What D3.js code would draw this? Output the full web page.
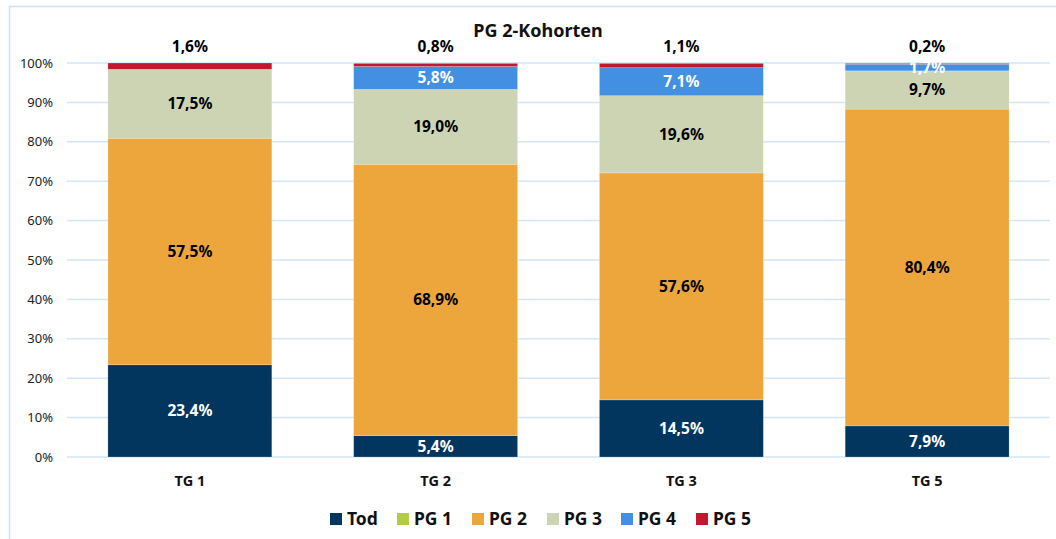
<!DOCTYPE html>
<html>
<meta charset="utf-8">
<head>
<title>PG 2-Kohorten</title>
	<script src="https://d3js.org/d3.v7.min.js"></script>
<style>
	body { margin:0; background:#fff; }
	text { font-family: "Noto Sans", "Open Sans", sans-serif; }
</style>
</head>

<body>
	<div id = "plot"></div>
</body>

<script>

// data
var categories = ["TG 1", "TG 2", "TG 3", "TG 5"];
var seriesNames = ["Tod", "PG 1", "PG 2", "PG 3", "PG 4", "PG 5"];
var tod = [23.4, 5.4, 14.5, 7.9];
var pg1 = [0, 0, 0, 0];
var pg2 = [57.5, 68.9, 57.6, 80.4];
var pg3 = [17.5, 19.0, 19.6, 9.7];
var pg4 = [0, 5.8, 7.1, 1.7];
var pg5 = [1.6, 0.8, 1.1, 0.2];
var yTicks = [0, 10, 20, 30, 40, 50, 60, 70, 80, 90, 100];

var colors = ["#02365f", "#b1cd48", "#eda63c", "#cdd4b4", "#4390e3", "#c0182f"];
var labelColors = ["#fff", "#000", "#000", "#000", "#fff", "#000"];

var values = [tod, pg1, pg2, pg3, pg4, pg5];
var table = categories.map(function(c, i){
	var row = { cat: c };
	seriesNames.forEach(function(s, j){ row[s] = values[j][i]; });
	return row;
});

var width = 1056, height = 539;
var margin = { top: 63, right: 6, bottom: 82, left: 67 };
var innerW = width - margin.left - margin.right;
var innerH = height - margin.top - margin.bottom;

var svg = d3.select("#plot").append("svg")
		.attr("width", width)
		.attr("height", height);

// chart border
svg.append("rect")
.attr("x", 9.5).attr("y", 6.5)
.attr("width", 1080).attr("height", 600)
.attr("fill", "none")
.attr("stroke", "#c8e1f8")
.attr("stroke-width", 1.5);

var xScale = d3.scaleBand()
				.domain(categories)
				.range([0, innerW])
				.paddingInner(0.333)
				.paddingOuter(0.1665);

var yScale = d3.scaleLinear()
				.domain([0, 100])
				.range([innerH, 0]);

var g = svg.append("g")
.attr("transform", "translate(" + margin.left + "," + margin.top + ")");

// gridlines
g.append("g")
.selectAll("line")
.data(yTicks)
.enter()
.append("line")
.attr("x1", 0)
.attr("x2", innerW)
.attr("y1", function(d){ return yScale(d); })
.attr("y2", function(d){ return yScale(d); })
.attr("stroke", "#d3e6f8")
.attr("stroke-width", 1.5);

// y axis labels
var yAxis = d3.axisLeft(yScale).tickValues(yTicks)
				.tickFormat(function(d){ return d + "%"; })
				.tickSize(0).tickPadding(14);
g.append("g")
.call(yAxis)
.call(function(a){ a.select(".domain").remove(); })
.selectAll("text")
.attr("font-size", 13)
.attr("fill", "#222")
.style("font-family", "'Noto Sans', sans-serif");

// x axis labels
var xAxis = d3.axisBottom(xScale).tickSize(0).tickPadding(19);
g.append("g")
.attr("transform", "translate(0," + innerH + ")")
.call(xAxis)
.call(function(a){ a.select(".domain").remove(); })
.selectAll("text")
.attr("font-size", 14.5)
.attr("font-weight", "bold")
.attr("fill", "#111")
.style("font-family", "'Noto Sans', sans-serif");

var stacked = d3.stack().keys(seriesNames)(table);

var layers = g.selectAll(".layer")
.data(stacked)
.enter()
.append("g")
.attr("class", "layer")
.attr("fill", function(d, i){ return colors[i]; });

layers.selectAll("rect")
.data(function(d){ return d; })
.enter()
.append("rect")
.attr("x", function(d){ return xScale(d.data.cat); })
.attr("width", xScale.bandwidth())
.attr("y", function(d){ return yScale(d[1]); })
.attr("height", function(d){ return yScale(d[0]) - yScale(d[1]); })
.attr("stroke", "rgba(255,255,255,0.35)")
.attr("stroke-width", 0.6);

// data labels
stacked.forEach(function(layer, i){
	g.append("g")
	.selectAll("text")
	.data(layer.filter(function(d){ return d[1] - d[0] > 0; }))
	.enter()
	.append("text")
	.attr("x", function(d){ return xScale(d.data.cat) + xScale.bandwidth() / 2; })
	.attr("y", function(d){
		if (i === 5) return yScale(100) - 16;
		return yScale((d[0] + d[1]) / 2);
	})
	.attr("dy", "0.35em")
	.attr("text-anchor", "middle")
	.attr("font-size", 15.5)
	.attr("font-weight", "bold")
	.attr("fill", labelColors[i])
	.text(function(d){ return (d[1] - d[0]).toFixed(1).replace(".", ",") + "%"; });
});

// title
svg.append("text")
.attr("x", 538)
.attr("y", 31)
.attr("dy", "0.35em")
.attr("text-anchor", "middle")
.attr("font-size", 18)
.attr("font-weight", "bold")
.attr("fill", "#111")
.text("PG 2-Kohorten");

// legend
var legendX = [330, 397, 472, 547, 621, 696];
var legend = svg.append("g")
.selectAll("g")
.data(seriesNames)
.enter()
.append("g")
.attr("transform", function(d, i){ return "translate(" + legendX[i] + ",519)"; });

legend.append("rect")
.attr("x", 0).attr("y", -6)
.attr("width", 12).attr("height", 12)
.attr("fill", function(d, i){ return colors[i]; });

legend.append("text")
.attr("x", 17)
.attr("dy", "0.35em")
.attr("font-size", 17.5)
.attr("font-weight", "bold")
.attr("fill", "#111")
.text(function(d){ return d; });

</script>
</html>
